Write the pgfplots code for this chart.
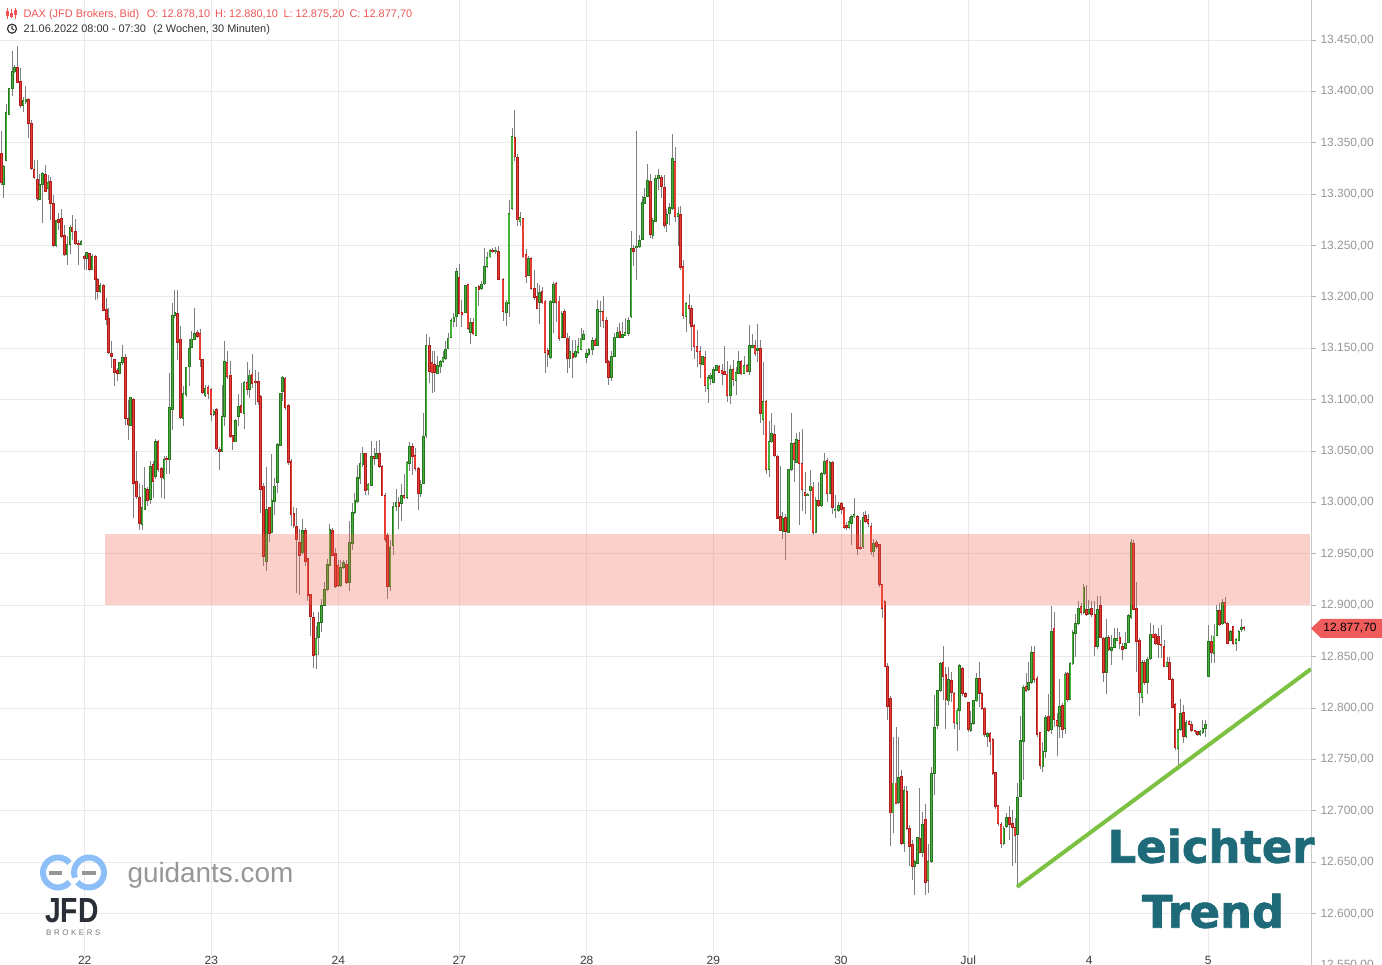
\documentclass[border=0pt]{standalone}
\usepackage{fontspec}
\setmainfont{Liberation Sans}
\newfontfamily\heavy{DejaVu Sans Bold}[FakeBold=1.5]
\usepackage{pgfplots}
\usepackage{pgfplotstable}
\pgfplotsset{compat=1.18}

\definecolor{upfill}{RGB}{70,178,58}
\definecolor{upedge}{RGB}{40,118,34}
\definecolor{dnfill}{RGB}{232,60,52}
\definecolor{dnedge}{RGB}{172,30,28}
\definecolor{wick}{RGB}{128,128,128}
\definecolor{gridc}{RGB}{234,234,234}
\definecolor{axisc}{RGB}{200,200,200}
\definecolor{tickc}{RGB}{180,180,180}
\definecolor{ticktxt}{RGB}{150,150,150}
\definecolor{datetxt}{RGB}{60,60,60}
\definecolor{darktxt}{RGB}{50,50,50}
\definecolor{logogray}{RGB}{150,150,150}
\definecolor{jfd}{RGB}{42,46,54}
\definecolor{brokers}{RGB}{120,120,120}
\definecolor{hdrred}{RGB}{240,85,85}
\definecolor{band}{RGB}{245,100,80}
\definecolor{trend}{RGB}{124,193,66}
\definecolor{teal}{RGB}{30,106,121}
\definecolor{tag}{RGB}{240,92,92}
\definecolor{logoblue}{RGB}{140,190,248}

% DAX 30 min candles: x = position in chart, open high low close
\pgfplotstableread{
x o h l c
1.3 13340 13362 13309 13311
3.7 13310 13328 13296 13327
6.2 13333 13388 13332 13379
9.2 13378 13403 13377 13403
12.3 13403 13439 13396 13419
14.5 13419 13426 13418 13423
17.3 13423 13444 13408 13409
20.5 13410 13423 13384 13386
23.2 13386 13395 13380 13391
25.8 13390 13405 13388 13392
28.3 13392 13394 13355 13369
31.3 13369 13372 13324 13325
34.2 13324 13333 13315 13316
37.3 13314 13333 13293 13296
39.7 13295 13320 13294 13309
42.5 13310 13322 13272 13320
45.3 13319 13328 13302 13303
48 13306 13319 13294 13311
50.5 13312 13317 13275 13291
53.3 13291 13299 13249 13250
56.2 13250 13275 13249 13274
58.5 13275 13282 13265 13273
61.3 13276 13286 13257 13259
64.3 13260 13270 13240 13241
67.2 13241 13259 13231 13251
70.2 13251 13270 13242 13268
72.2 13268 13280 13255 13264
75.3 13264 13276 13251 13252
78.3 13252 13255 13231 13251
81.2 13251 13255 13251 13254
84.3 13239 13241 13226 13238
86.5 13238 13244 13226 13243
89.3 13242 13243 13225 13227
92.2 13227 13242 13226 13239
95.3 13239 13241 13197 13217
97.7 13217 13218 13198 13205
100.2 13205 13214 13204 13211
103.3 13211 13213 13186 13187
106.3 13188 13199 13173 13178
108.7 13179 13189 13145 13146
111.5 13145 13157 13131 13142
114.5 13139 13140 13113 13127
117.3 13128 13131 13118 13126
119.5 13126 13137 13125 13136
122.7 13136 13153 13134 13141
125.3 13141 13145 13075 13082
128.2 13082 13100 13061 13076
130.5 13075 13103 13074 13102
133.3 13100 13102 12985 13019
136.3 13020 13050 13003 13006
139.3 13005 13019 12973 12980
142.2 12979 13017 12973 12995
144.8 12993 13035 12993 13014
147.3 13013 13015 12997 13002
150.3 13003 13040 12999 13035
153.2 13037 13040 13004 13021
155.5 13025 13062 13023 13059
158.2 13059 13061 13030 13032
161.3 13033 13035 13004 13024
164.2 13023 13045 13003 13042
166.7 13043 13045 13028 13042
169.3 13042 13126 13028 13092
172.3 13091 13194 13071 13182
174.8 13182 13207 13180 13185
177.3 13184 13207 13139 13156
180.3 13159 13172 13081 13083
183.2 13082 13113 13074 13106
186.2 13105 13132 13103 13131
189.3 13132 13159 13113 13150
191.5 13151 13167 13150 13159
194.5 13159 13189 13158 13164
197.3 13165 13168 13160 13162
200 13164 13169 13132 13139
202.3 13139 13140 13106 13107
205.2 13104 13114 13103 13111
208 13112 13114 13101 13106
211 13110 13111 13079 13086
213.8 13086 13091 13084 13089
216.7 13090 13092 13051 13053
219.3 13052 13054 13032 13050
222.2 13050 13114 13049 13084
224.5 13084 13157 13074 13137
227 13136 13147 13120 13123
230.3 13124 13138 13063 13064
232.8 13065 13066 13051 13059
235.5 13059 13081 13059 13080
238.3 13084 13106 13074 13093
241.2 13094 13116 13087 13088
244.2 13087 13118 13072 13117
247 13117 13137 13105 13110
249.5 13110 13129 13102 13124
252.2 13125 13145 13111 13116
255.3 13118 13129 13095 13117
258.3 13118 13127 13095 13098
260.7 13103 13105 12990 13013
263.3 13016 13019 12938 12948
266.3 12943 13035 12933 12993
269.3 12995 12996 12962 12970
271.8 12971 13047 12970 13002
274.4 13001 13024 12988 13016
277.5 13020 13058 13009 13056
280.3 13056 13107 13055 13106
282.6 13108 13123 13099 13122
285.2 13121 13122 13090 13093
288.3 13094 13096 13037 13039
291.2 13040 13042 12977 12988
293.8 12989 12996 12975 12978
296.5 12977 12995 12912 12964
299.5 12961 12974 12910 12949
302.5 12951 12984 12949 12973
305.3 12973 12975 12938 12943
307.8 12945 12946 12904 12910
310.3 12910 12911 12870 12889
313.3 12888 12893 12839 12851
316 12852 12880 12838 12868
318.5 12869 12893 12852 12883
321.3 12883 12906 12874 12900
324.3 12900 12923 12899 12915
327.3 12915 12945 12914 12940
329.8 12939 12979 12938 12974
332.5 12973 12975 12948 12949
335.3 12950 12956 12917 12918
338 12939 12944 12918 12919
340.7 12919 12944 12918 12937
343.3 12937 12944 12935 12942
346.3 12940 12944 12921 12922
349.3 12922 12982 12914 12961
352.3 12960 13000 12954 12990
354.8 12990 13009 12989 13002
357.3 13001 13037 13000 13024
360.2 13023 13048 13018 13038
362.8 13037 13054 13035 13048
365.3 13048 13048 13007 13012
368 13013 13019 13007 13017
371.3 13017 13060 13016 13045
374 13045 13053 13037 13043
376.5 13043 13060 13042 13048
379.3 13048 13061 13034 13035
382.2 13035 13037 13006 13007
385 13007 13009 12962 12964
387.5 12968 12970 12906 12918
390.2 12918 12964 12914 12956
393.2 12958 13001 12949 12996
396.2 12996 13013 12992 13000
398.8 13000 13005 12974 12996
401.3 12999 13018 12982 13007
404 13007 13028 13003 13005
407 13005 13040 13003 13039
409.7 13038 13059 13031 13054
412.3 13054 13058 13027 13045
415 13046 13053 13031 13033
418.3 13033 13035 12993 13009
420.8 13009 13022 13005 13017
423.3 13019 13087 13018 13064
426.2 13065 13164 13063 13153
429.3 13153 13161 13116 13128
432 13136 13147 13107 13127
434.7 13134 13147 13108 13127
437.3 13126 13143 13125 13133
440.3 13132 13139 13126 13137
443 13137 13147 13136 13141
445.5 13140 13157 13139 13149
448.2 13150 13165 13149 13160
451 13161 13180 13160 13177
453.8 13176 13184 13171 13180
456.3 13181 13228 13171 13225
459.2 13219 13232 13183 13184
461.8 13185 13197 13171 13183
465.3 13185 13212 13184 13211
468 13212 13212 13168 13169
470.7 13166 13180 13154 13175
473.2 13175 13180 13163 13165
476 13163 13210 13162 13209
478.8 13210 13212 13191 13207
481.3 13208 13216 13207 13212
484.3 13213 13248 13212 13230
487 13230 13244 13228 13238
490 13239 13247 13238 13245
492.7 13245 13248 13243 13244
495.5 13244 13249 13242 13245
498.3 13244 13250 13217 13217
503 13217 13218 13177 13186
506.3 13185 13197 13172 13195
509 13194 13294 13181 13281
512 13286 13364 13285 13356
514.8 13355 13382 13332 13337
517.3 13336 13339 13269 13275
520 13274 13283 13269 13277
523 13276 13277 13238 13239
526 13241 13247 13214 13220
528.5 13221 13240 13220 13237
531 13237 13239 13207 13208
534.3 13208 13226 13197 13200
537.2 13200 13214 13188 13189
539.7 13195 13212 13174 13204
542.2 13205 13210 13193 13195
545 13196 13197 13126 13146
547.8 13148 13150 13132 13144
550.3 13141 13197 13140 13196
553.3 13195 13215 13165 13212
556 13213 13215 13176 13195
559 13196 13201 13157 13160
561.8 13161 13186 13160 13184
564.5 13186 13188 13160 13161
567.3 13160 13165 13126 13140
569.8 13140 13162 13131 13147
572.8 13145 13158 13121 13141
575.3 13142 13158 13141 13147
578 13146 13160 13145 13152
581 13149 13170 13148 13160
583.7 13159 13168 13158 13163
586.5 13141 13149 13136 13145
588.8 13144 13150 13143 13149
592.3 13149 13161 13144 13158
595 13158 13160 13152 13153
597.7 13153 13197 13152 13188
600.5 13186 13196 13171 13186
603 13186 13201 13170 13177
606.3 13177 13181 13136 13136
608.7 13137 13139 13114 13122
611.3 13122 13147 13118 13142
614.3 13142 13165 13142 13161
617.3 13161 13171 13160 13165
619.8 13166 13175 13160 13161
622.3 13161 13176 13160 13163
625 13163 13180 13162 13165
628.3 13165 13181 13162 13177
631.2 13181 13264 13180 13247
633.5 13247 13251 13230 13244
636.5 13248 13362 13217 13249
639.7 13249 13260 13248 13255
642.3 13256 13298 13255 13292
644.5 13291 13306 13291 13297
647.3 13298 13329 13297 13313
650.3 13312 13320 13257 13261
652.8 13260 13277 13256 13274
655.7 13274 13319 13274 13315
658.3 13315 13325 13304 13318
661.3 13316 13319 13296 13308
664.3 13306 13319 13267 13270
666.5 13272 13286 13263 13280
669.3 13281 13291 13270 13287
672.3 13286 13359 13285 13335
675 13332 13346 13273 13278
678 13278 13288 13250 13281
680.5 13280 13289 13226 13229
683 13230 13236 13179 13182
686 13181 13195 13166 13194
689 13192 13203 13174 13189
691.5 13189 13192 13147 13171
694 13172 13174 13140 13152
697 13152 13168 13132 13147
700 13147 13152 13121 13135
702.5 13134 13143 13134 13142
705 13141 13147 13108 13114
708 13111 13124 13097 13122
710.7 13121 13126 13114 13124
713.3 13117 13132 13116 13129
716.3 13129 13134 13129 13133
719 13132 13134 13126 13127
722 13128 13135 13114 13126
724.5 13127 13152 13124 13125
727 13125 13138 13098 13104
730.3 13104 13134 13096 13129
733 13129 13139 13113 13120
736 13119 13132 13105 13126
738.7 13126 13147 13125 13137
741.2 13137 13139 13124 13126
744 13126 13143 13125 13133
747 13133 13135 13127 13128
749.5 13128 13173 13124 13153
752.3 13151 13164 13150 13153
755 13153 13158 13143 13145
757.5 13148 13174 13137 13150
760.3 13150 13158 13077 13087
763 13081 13137 13066 13098
766 13098 13100 13028 13032
769 13032 13079 13025 13059
771.5 13059 13087 13058 13067
774.3 13066 13075 13044 13046
777.3 13045 13046 12984 12985
780.3 12986 13036 12972 12973
782.8 12972 12991 12965 12984
785.3 12985 12989 12944 12972
788.3 12971 13033 12970 13032
791.3 13032 13087 13031 13057
794 13057 13059 13020 13042
796.5 13039 13068 13038 13061
799 13060 13069 12978 13038
802 13038 13072 12992 13013
805 13010 13030 12989 13007
807.5 13007 13009 13006 13008
810.3 13012 13032 12983 13016
813 13015 13020 12968 12971
815.8 12971 13005 12970 13002
818.7 13002 13020 12996 12997
821.3 12997 13030 12996 13028
824.3 13028 13048 13027 13040
827 13041 13043 13001 13009
829.8 13009 13040 13008 13039
832.3 13039 13040 12989 12995
835 12992 13007 12985 12993
838.3 12992 13001 12991 12997
841.5 12999 13001 12989 12993
844 12995 12996 12974 12976
846.5 12978 12981 12973 12976
849 12976 12986 12974 12981
851.5 12980 12988 12959 12986
854 12986 13004 12985 12988
857.3 12986 12988 12949 12955
860.3 12956 12983 12954 12955
863.2 12957 12991 12955 12985
865.5 12987 12992 12980 12982
868 12983 12989 12976 12980
871 12977 12980 12949 12952
873.7 12952 12965 12947 12960
876.5 12961 12964 12955 12957
879.3 12959 12960 12918 12920
882 12920 12921 12888 12897
884.8 12904 12905 12840 12841
887.5 12840 12844 12788 12802
890.3 12809 12812 12666 12698
893 12698 12772 12678 12727
896 12727 12782 12707 12707
898.7 12708 12772 12707 12732
901.5 12733 12740 12667 12668
904.2 12668 12724 12660 12720
906.8 12719 12724 12681 12683
909.7 12683 12686 12646 12665
912.3 12667 12672 12633 12646
914.8 12646 12652 12618 12651
917.3 12649 12675 12648 12674
919.8 12673 12722 12659 12660
922.3 12660 12699 12655 12687
925.3 12692 12707 12618 12630
928 12632 12668 12620 12651
931.3 12651 12743 12649 12736
934.3 12736 12813 12715 12781
937.3 12783 12818 12780 12817
940.3 12817 12845 12816 12843
943.2 12844 12860 12808 12831
945.8 12833 12840 12780 12808
948.5 12807 12840 12803 12828
951.3 12827 12835 12806 12815
954 12814 12816 12780 12786
957 12785 12800 12758 12798
959.7 12798 12843 12779 12841
962.5 12838 12840 12812 12814
965.3 12814 12816 12810 12811
968.3 12805 12806 12777 12779
970.8 12778 12797 12777 12785
973.5 12785 12808 12784 12807
976.7 12807 12834 12806 12829
979.3 12829 12845 12801 12814
981.8 12814 12816 12798 12800
984.5 12800 12801 12772 12774
987.3 12772 12777 12762 12775
990.2 12775 12777 12754 12768
992.8 12769 12771 12735 12736
995.4 12737 12738 12702 12704
998 12705 12706 12685 12688
1001 12687 12689 12664 12668
1003.8 12668 12685 12667 12683
1006.7 12685 12698 12683 12693
1009.7 12693 12705 12672 12687
1012.3 12688 12701 12646 12684
1015 12684 12693 12649 12676
1017.7 12677 12727 12626 12713
1020.5 12714 12792 12714 12768
1023.3 12768 12822 12730 12820
1026 12821 12834 12816 12817
1028.6 12818 12845 12817 12825
1031.3 12825 12860 12823 12854
1034 12854 12860 12824 12828
1037.2 12829 12831 12772 12774
1040.2 12776 12777 12741 12744
1042.8 12743 12767 12738 12758
1045.4 12758 12793 12751 12791
1048.3 12792 12814 12777 12778
1051.3 12779 12899 12775 12874
1054.2 12877 12893 12782 12789
1057 12788 12795 12753 12783
1059.7 12782 12828 12771 12801
1062.3 12802 12805 12771 12779
1065 12780 12835 12775 12833
1067.5 12834 12835 12806 12808
1070.2 12808 12845 12808 12843
1072.8 12843 12876 12842 12873
1075.5 12873 12892 12850 12882
1078.3 12882 12904 12881 12897
1081 12899 12902 12891 12893
1083.8 12893 12921 12892 12917
1086.5 12896 12920 12890 12891
1088.8 12892 12905 12891 12896
1091.7 12897 12904 12889 12891
1094.8 12891 12904 12851 12860
1097.4 12860 12909 12857 12896
1100.3 12900 12909 12868 12869
1103.5 12868 12869 12825 12835
1106.3 12835 12887 12814 12869
1108.8 12869 12871 12856 12857
1111.5 12856 12871 12842 12859
1114.3 12859 12878 12858 12868
1117 12866 12878 12865 12868
1119.8 12869 12874 12857 12863
1122.5 12860 12863 12847 12857
1125.3 12858 12874 12857 12863
1128.3 12864 12892 12863 12890
1131.1 12888 12965 12887 12961
1133.6 12960 12964 12895 12896
1136.3 12897 12923 12835 12865
1139.3 12866 12868 12792 12815
1142 12810 12847 12805 12844
1144.7 12844 12847 12822 12825
1147.3 12825 12850 12814 12847
1150.3 12848 12883 12847 12872
1153 12872 12881 12868 12869
1155.7 12872 12873 12861 12863
1158.3 12870 12878 12849 12862
1161 12862 12881 12849 12861
1164.2 12860 12866 12840 12841
1167 12841 12850 12840 12844
1169.6 12844 12850 12827 12828
1172.3 12828 12829 12800 12801
1175.2 12803 12805 12759 12762
1178 12761 12780 12743 12779
1180.5 12779 12809 12778 12795
1183.3 12796 12803 12766 12772
1186.2 12772 12788 12771 12786
1189 12787 12788 12784 12784
1191.6 12784 12787 12777 12778
1195 12778 12779 12775 12777
1197.6 12777 12778 12773 12774
1200.2 12774 12779 12773 12777
1202.8 12776 12788 12775 12780
1205.4 12780 12788 12772 12784
1208.7 12831 12881 12831 12865
1211.4 12865 12871 12844 12854
1214 12853 12882 12844 12870
1216.8 12871 12900 12870 12895
1219.4 12895 12902 12880 12881
1222.3 12882 12906 12881 12903
1225 12903 12908 12882 12883
1227.6 12882 12884 12862 12863
1230.3 12866 12876 12865 12874
1233.2 12879 12880 12861 12863
1236 12863 12868 12856 12867
1238.8 12866 12876 12865 12874
1241.4 12877 12887 12874 12878
1244 12878.1 12880.1 12875.2 12877.7
}\candles

% turn each candle into path segments (wick, body edge, body fill)
\pgfplotstablegetrowsof{\candles}
\pgfmathtruncatemacro\lastrow{\pgfplotsretval-1}
\gdef\wicks{}\gdef\upO{}\gdef\upI{}\gdef\dnO{}\gdef\dnI{}
\pgfplotsforeachungrouped \i in {0,...,\lastrow}{%
  \pgfplotstablegetelem{\i}{x}\of\candles \let\cX\pgfplotsretval
  \pgfplotstablegetelem{\i}{o}\of\candles \let\cO\pgfplotsretval
  \pgfplotstablegetelem{\i}{h}\of\candles \let\cH\pgfplotsretval
  \pgfplotstablegetelem{\i}{l}\of\candles \let\cL\pgfplotsretval
  \pgfplotstablegetelem{\i}{c}\of\candles \let\cC\pgfplotsretval
  \xdef\wicks{\wicks (\cX,\cL) (\cX,\cH) (\cX,nan)}%
  \ifdim\cC pt<\cO pt
    \pgfmathsetmacro\bT{\cO+0.55}\pgfmathsetmacro\bB{\cC-0.55}%
    \pgfmathsetmacro\fT{\cO-0.35}\pgfmathsetmacro\fB{\cC+0.35}%
    \xdef\dnO{\dnO (\cX,\bB) (\cX,\bT) (\cX,nan)}%
    \ifdim\fT pt>\fB pt \xdef\dnI{\dnI (\cX,\fB) (\cX,\fT) (\cX,nan)}\fi
  \else
    \pgfmathsetmacro\bT{\cC+0.55}\pgfmathsetmacro\bB{\cO-0.55}%
    \pgfmathsetmacro\fT{\cC-0.35}\pgfmathsetmacro\fB{\cO+0.35}%
    \xdef\upO{\upO (\cX,\bB) (\cX,\bT) (\cX,nan)}%
    \ifdim\fT pt>\fB pt \xdef\upI{\upI (\cX,\fB) (\cX,\fT) (\cX,nan)}\fi
  \fi
}

\begin{document}
\begin{tikzpicture}
\useasboundingbox (0,0) rectangle (1382bp,965bp);
\begin{axis}[
  at={(0,0)}, anchor=south west,
  scale only axis, width=1311bp, height=965bp,
  xmin=0, xmax=1311, ymin=12550, ymax=13489,
  axis y line*=right, axis x line*=bottom,
  x axis line style={draw=none},
  y axis line style={draw=axisc},
  xtick={84.7,211.3,338.3,459.3,586.7,713.3,841,968.3,1089.3,1208.3},
  xticklabels={22,23,24,27,28,29,30,Jul,4,5},
  ytick={12550,12600,...,13450},
  scaled y ticks=false,
  grid=major, major grid style={gridc, line width=1bp},
  tick align=outside, major tick length=5bp,
  x tick style={draw=none},
  y tick style={draw=tickc, line width=1bp},
  xticklabel style={anchor=base, yshift=6bp, font=\fontsize{12}{14}\selectfont, text=datetxt},
  yticklabel style={anchor=west, xshift=1bp, font=\fontsize{12}{14}\selectfont, text=ticktxt},
  yticklabel={\pgfmathprintnumber[fixed,fixed zerofill,precision=2,use comma,1000 sep={.}]{\tick}},
  /pgf/number format/assume math mode=true,
  unbounded coords=jump,
]
\edef\doplots{%
  \noexpand\addplot[draw=wick, line width=1bp, mark=none] coordinates {\wicks};
  \noexpand\addplot[draw=upedge, line width=2.5bp, mark=none] coordinates {\upO};
  \noexpand\addplot[draw=upfill, line width=1.1bp, mark=none] coordinates {\upI};
  \noexpand\addplot[draw=dnedge, line width=2.5bp, mark=none] coordinates {\dnO};
  \noexpand\addplot[draw=dnfill, line width=1.1bp, mark=none] coordinates {\dnI};
}
\doplots
% resistance zone
\fill[band, opacity=0.3] (axis cs:105,12900) rectangle (axis cs:1310,12969);
% trend line
\addplot[trend, line width=4bp] coordinates {(1017,12626) (1311,12838)};
\end{axis}

% header
\begin{scope}[hdrred, line width=1bp]
  \draw (7.5bp,946bp) -- (7.5bp,957bp); \fill (6bp,949bp) rectangle (9bp,954bp);
  \draw (11.5bp,947bp) -- (11.5bp,956bp); \fill (10bp,948bp) rectangle (13bp,952bp);
  \draw (15.5bp,946bp) -- (15.5bp,957bp); \fill (14bp,950bp) rectangle (17bp,955bp);
\end{scope}
\begin{scope}[font=\fontsize{11}{13}\selectfont, inner sep=0]
  \node[anchor=base west, text=hdrred] at (23.3bp,947.7bp) {DAX (JFD Brokers, Bid)};
  \node[anchor=base west, text=hdrred] at (146.7bp,947.7bp) {O: 12.878,10};
  \node[anchor=base west, text=hdrred] at (215bp,947.7bp) {H: 12.880,10};
  \node[anchor=base west, text=hdrred] at (283.3bp,947.7bp) {L: 12.875,20};
  \node[anchor=base west, text=hdrred] at (349.3bp,947.7bp) {C: 12.877,70};
  \node[anchor=base west, text=darktxt] at (23.3bp,932.3bp) {21.06.2022 08:00 - 07:30};
  \node[anchor=base west, text=darktxt] at (153bp,932.3bp) {(2 Wochen, 30 Minuten)};
\end{scope}
\draw[darktxt, line width=1.2bp] (12bp,936.3bp) circle (4.5bp);
\draw[darktxt, line width=1.1bp] (12bp,939bp) -- (12bp,936.3bp) -- (14bp,935bp);

% price tag
\fill[tag] (1311bp,336.5bp) -- (1321bp,346bp) -- (1382bp,346bp) -- (1382bp,327bp) -- (1321bp,327bp) -- cycle;
\node[font=\fontsize{12}{14}\selectfont, text=black, inner sep=0] at (1350bp,336.5bp) {12.877,70};

% logos
\draw[logoblue, line width=6bp] (58bp,92.5bp) ++(40:15bp) arc[start angle=40, end angle=320, radius=15bp];
\draw[logoblue, line width=6bp] (89bp,92.5bp) ++(-140:15bp) arc[start angle=-140, end angle=200, radius=15bp];
\draw[logogray, line width=4bp] (49bp,92bp) -- (62bp,92bp);
\draw[logogray, line width=4bp] (82bp,92bp) -- (96bp,92bp);
\node[anchor=base west, inner sep=0, font=\fontsize{28}{30}\selectfont, text=logogray] at (127.3bp,82.3bp) {guidants.com};
\node[anchor=base west, inner sep=0, xscale=0.81, font=\bfseries\fontsize{35}{35}\selectfont, text=jfd] at (45bp,42.5bp) {JFD};
\node[anchor=base west, inner sep=0, font=\fontsize{8}{9}\selectfont\addfontfeature{LetterSpace=32}, text=brokers] at (46bp,29.5bp) {BROKERS};

% annotation
\node[anchor=base, inner sep=0, text=teal, font=\heavy\fontsize{45}{48}\selectfont] at (1211bp,102.3bp) {Leichter};
\node[anchor=base, inner sep=0, text=teal, font=\heavy\fontsize{45}{48}\selectfont] at (1213bp,37.3bp) {Trend};
\end{tikzpicture}
\end{document}
